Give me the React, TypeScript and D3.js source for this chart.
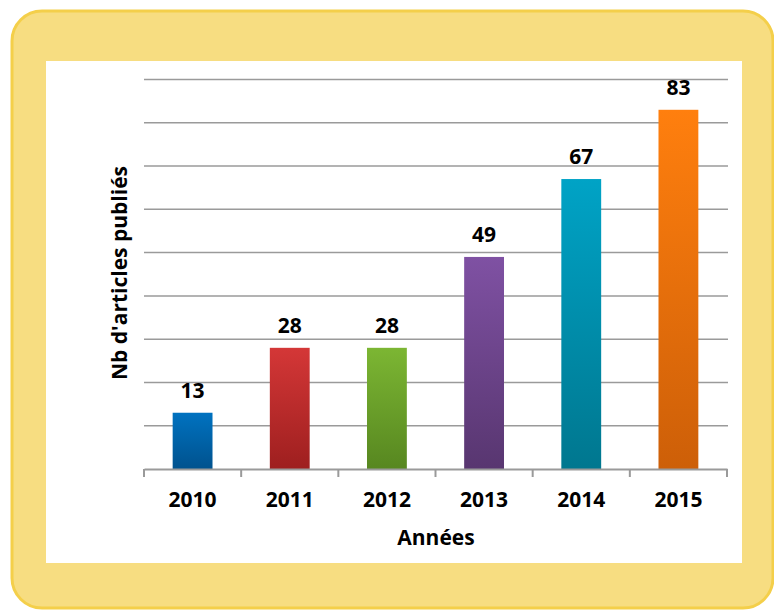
import React, { useRef, useEffect } from "react";
import { select, scaleLinear, scaleBand, axisBottom } from "d3";

const years = ["2010", "2011", "2012", "2013", "2014", "2015"];
const articles = [13, 28, 28, 49, 67, 83];
const topColors = ["#0072c0", "#d43737", "#7cb633", "#7f51a3", "#00a3c6", "#ff7f0e"];
const bottomColors = ["#00528e", "#9e1f1f", "#578720", "#583670", "#00778f", "#cd5f08"];
const yTicks = [0, 10, 20, 30, 40, 50, 60, 70, 80, 90];

const App = () => {
  const svgRef = useRef<SVGSVGElement>(null);
  const width = 774;
  const height = 610;

  useEffect(() => {
    const svg = select(svgRef.current);
    svg.selectAll("*").remove();
    const font = "'Open Sans', Calibri, sans-serif";

    // cadre jaune + zone blanche
    svg.append("rect")
      .attr("x", 12).attr("y", 11).attr("width", 761).attr("height", 597)
      .attr("rx", 30).attr("fill", "#f7dd81").attr("stroke", "#f4cf4a").attr("stroke-width", 3);
    svg.append("rect")
      .attr("x", 46).attr("y", 61).attr("width", 696).attr("height", 502)
      .attr("fill", "#ffffff");

    const xScale = scaleBand().domain(years).range([144, 727]).paddingInner(0.59).paddingOuter(0.295);
    const yScale = scaleLinear().domain([0, 90]).range([469, 79.5]);

    const defs = svg.append("defs");
    years.forEach((yr, i) => {
      const g = defs.append("linearGradient").attr("id", "grad" + i)
        .attr("x1", 0).attr("y1", 0).attr("x2", 0).attr("y2", 1);
      g.append("stop").attr("offset", "0%").attr("stop-color", topColors[i]);
      g.append("stop").attr("offset", "100%").attr("stop-color", bottomColors[i]);
    });

    // quadrillage
    svg.append("g")
      .selectAll("line")
      .data(yTicks.slice(1))
      .join("line")
      .attr("x1", 144).attr("x2", 728)
      .attr("y1", (d) => yScale(d)).attr("y2", (d) => yScale(d))
      .attr("stroke", "#9a9a9a").attr("stroke-width", 1.5);

    // barres
    svg.append("g")
      .selectAll("rect")
      .data(articles)
      .join("rect")
      .attr("x", (d, i) => xScale(years[i]))
      .attr("y", (d) => yScale(d))
      .attr("width", xScale.bandwidth())
      .attr("height", (d) => yScale(0) - yScale(d))
      .attr("fill", (d, i) => `url(#grad${i})`);

    // axe des x
    const xAxis = axisBottom(xScale).tickSize(0).tickPadding(23);
    const gx = svg.append("g").attr("transform", `translate(0,${yScale(0)})`).call(xAxis);
    gx.select(".domain").attr("stroke", "#9a9a9a").attr("stroke-width", 2);
    gx.selectAll("text")
      .attr("font-family", font).attr("font-size", 21).attr("font-weight", "bold").attr("fill", "#000");
    const step = xScale.step();
    gx.selectAll(".sep")
      .data(years.concat(["end"]))
      .join("line")
      .attr("class", "sep")
      .attr("x1", (d, i) => 144 + i * step).attr("x2", (d, i) => 144 + i * step)
      .attr("y1", 0).attr("y2", 8)
      .attr("stroke", "#9a9a9a").attr("stroke-width", 2);

    // étiquettes de valeurs
    svg.append("g")
      .selectAll("text")
      .data(articles)
      .join("text")
      .attr("x", (d, i) => xScale(years[i]) + xScale.bandwidth() / 2)
      .attr("y", (d) => yScale(d) - 15)
      .attr("text-anchor", "middle")
      .attr("font-family", font).attr("font-size", 21).attr("font-weight", "bold")
      .text((d) => d);

    // titres des axes
    svg.append("text")
      .attr("x", 436).attr("y", 545)
      .attr("text-anchor", "middle")
      .attr("font-family", font).attr("font-size", 21).attr("font-weight", "bold")
      .text("Années");
    svg.append("text")
      .attr("transform", "translate(127,273) rotate(-90)")
      .attr("text-anchor", "middle")
      .attr("font-family", font).attr("font-size", 21).attr("font-weight", "bold")
      .text("Nb d'articles publiés");
  }, []);

  return (
    <div style={{ position: "absolute", left: 0, top: 0 }}>
      <svg ref={svgRef} width={width} height={height} style={{ display: "block" }} />
    </div>
  );
};

export default App;
